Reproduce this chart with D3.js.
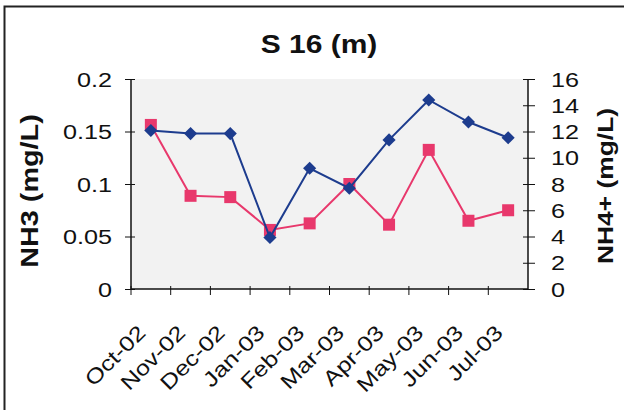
<!DOCTYPE html>
<html>
<head>
<meta charset="utf-8">
<script src="https://cdn.jsdelivr.net/npm/d3@7"></script>
<style>
  body { margin: 0; background: #fff; }
  text { font-family: "Liberation Sans", Arial, sans-serif; fill: #111; }
</style>
</head>
<body>
<svg id="chart" width="624" height="410"></svg>
<script>
// values
var months = ["Oct-02", "Nov-02", "Dec-02", "Jan-03", "Feb-03", "Mar-03", "Apr-03", "May-03", "Jun-03", "Jul-03"];
var nh3 = [0.151, 0.148, 0.148, 0.049, 0.115, 0.096, 0.142, 0.18, 0.159, 0.144];
var nh4 = [12.5, 7.1, 7.0, 4.5, 5.0, 8.0, 4.9, 10.6, 5.2, 6.0];
var nh3Ticks = [0, 0.05, 0.1, 0.15, 0.2];
var nh4Ticks = [0, 2, 4, 6, 8, 10, 12, 14, 16];

var svg = d3.select('#chart');
var plot = {left: 131, right: 528, top: 79, bottom: 289};
var stretch = 1.2; // scanned text is wider than plain Arial

var x = d3.scaleBand().domain(months).range([plot.left, plot.right]);
var yL = d3.scaleLinear().domain([0, 0.2]).range([plot.bottom, plot.top]);
var yR = d3.scaleLinear().domain([0, 16]).range([plot.bottom, plot.top]);

// outer frame (only top/left edges show in the crop)
svg.append('rect')
	.attr('x', 4.5).attr('y', 6.5)
	.attr('width', 640).attr('height', 420)
	.style('fill', 'none')
	.style('stroke', '#222')
	.style('stroke-width', 2);

svg.append('rect')
	.attr('x', plot.left).attr('y', plot.top)
	.attr('width', plot.right - plot.left)
	.attr('height', plot.bottom - plot.top)
	.style('fill', '#f2f2f2');

function stretchedText(g, tx, ty, rot, str, size, anchor, weight) {
	return g.append('text')
		.attr('transform', 'translate(' + tx + ',' + ty + ') rotate(' + rot + ') scale(' + stretch + ',1)')
		.attr('text-anchor', anchor)
		.style('font-size', size + 'px')
		.style('font-weight', weight || 'normal')
		.text(str);
}

// title
stretchedText(svg, 319, 53, 0, 'S 16 (m)', 25, 'middle', 'bold');

// left axis
var gL = svg.append('g').attr('transform', 'translate(' + plot.left + ',0)')
	.call(d3.axisLeft(yL).tickValues(nh3Ticks).tickSize(6).tickFormat(''));
gL.select('.domain').attr('d', 'M0,' + plot.top + 'V' + plot.bottom).style('stroke', '#111').style('stroke-width', 1.5);
gL.selectAll('.tick line').attr('x1', 4).attr('x2', -6).style('stroke', '#111');
nh3Ticks.forEach(function(t) {
	stretchedText(svg, 112, yL(t) + 7.5, 0, String(t), 21, 'end');
});

// right axis
var gR = svg.append('g').attr('transform', 'translate(' + plot.right + ',0)')
	.call(d3.axisRight(yR).tickValues(nh4Ticks).tickSize(6).tickFormat(''));
gR.select('.domain').attr('d', 'M0,' + plot.top + 'V' + plot.bottom).style('stroke', '#111').style('stroke-width', 1.5);
gR.selectAll('.tick line').attr('x1', -5).attr('x2', 7).style('stroke', '#111');
nh4Ticks.forEach(function(t) {
	stretchedText(svg, 551, yR(t) + 7.5, 0, String(t), 21, 'start');
});

// bottom axis, ticks on category boundaries
var gB = svg.append('g').attr('transform', 'translate(0,' + plot.bottom + ')')
	.call(d3.axisBottom(x).tickSize(6).tickFormat(''));
gB.select('.domain').attr('d', 'M' + plot.left + ',0H' + plot.right).style('stroke', '#111').style('stroke-width', 1.5);
gB.selectAll('.tick').attr('transform', function(d) { return 'translate(' + x(d) + ',0)'; });
gB.selectAll('.tick line').attr('y1', -3).attr('y2', 6).style('stroke', '#111');
months.forEach(function(m) {
	stretchedText(svg, x(m) + x.bandwidth()/2 - 4, plot.bottom + 45, -45, m, 21, 'end');
});

// axis titles
stretchedText(svg, 38, 191, -90, 'NH3 (mg/L)', 24, 'middle', 'bold');
stretchedText(svg, 613, 186, -90, 'NH4+ (mg/L)', 22, 'middle', 'bold');

var cx = function(d, i) { return x(months[i]) + x.bandwidth()/2; };

// NH4+ (pink squares, right axis), drawn underneath
var pink = '#e8386c';
svg.append('path')
	.attr('d', d3.line().x(cx).y(function(d) { return yR(d); })(nh4))
	.style('fill', 'none').style('stroke', pink).style('stroke-width', 2);
svg.selectAll('.sq').data(nh4).enter().append('rect')
	.attr('x', function(d, i) { return cx(d, i) - 6; })
	.attr('y', function(d) { return yR(d) - 6; })
	.attr('width', 12).attr('height', 12)
	.style('fill', pink);

// NH3 (blue diamonds, left axis)
var blue = '#1d3c8e';
svg.append('path')
	.attr('d', d3.line().x(cx).y(function(d) { return yL(d); })(nh3))
	.style('fill', 'none').style('stroke', blue).style('stroke-width', 2);
svg.selectAll('.dm').data(nh3).enter().append('path')
	.attr('d', d3.symbol().type(d3.symbolDiamond2).size(110))
	.attr('transform', function(d, i) { return 'translate(' + cx(d, i) + ',' + yL(d) + ')'; })
	.style('fill', blue);
</script>
</body>
</html>
